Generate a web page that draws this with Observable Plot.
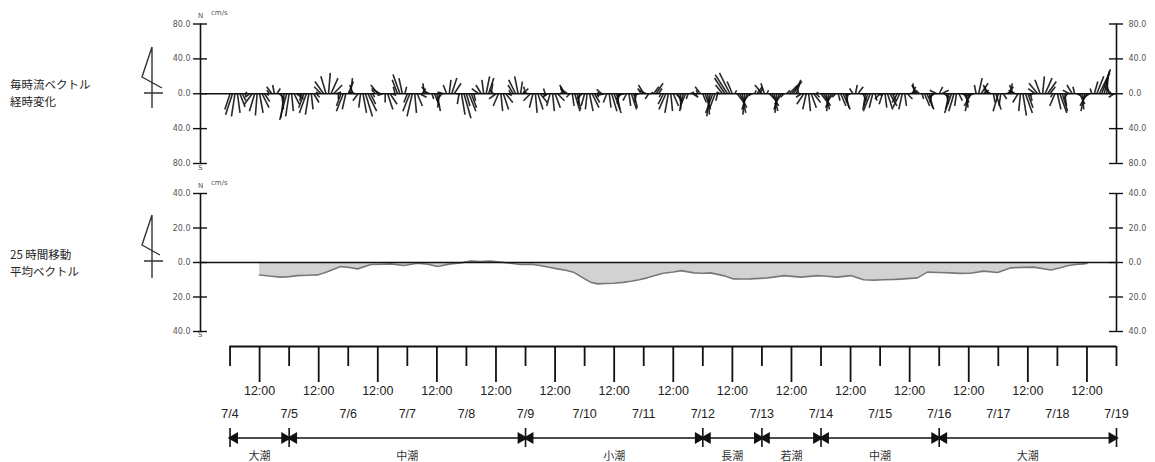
<!DOCTYPE html>
<html><head><meta charset="utf-8">
<script src="https://cdn.jsdelivr.net/npm/d3@7"></script>
<script src="https://cdn.jsdelivr.net/npm/@observablehq/plot@0.6"></script>
<style>
body{margin:0;background:#fff;}
#wrap{position:relative;width:1155px;height:462px;overflow:hidden;background:#fff;font-family:'Noto Sans CJK JP',sans-serif;}
#wrap svg{position:absolute;left:0;}
.lab{position:absolute;font-size:11.5px;line-height:17px;height:17px;color:#222;white-space:nowrap;}
.tiny{position:absolute;font-size:7px;line-height:8px;color:#555;font-family:'DejaVu Sans',sans-serif;}
</style></head><body><div id="wrap"></div>
<script>
// ---- data (hand-estimated from the picture) ----
// hourly current vectors, cm/s, one row per day starting 7/4 00:00
const northV = [
 [-18,-24,-26,-22,-15,-8,-3,2,-4,-12,-20,-25,-22,-16,-9,-2,4,8,10,6,-6,-18,-28,-30],
 [-26,-20,-12,-6,-2,-8,-16,-22,-24,-18,-10,-4,2,8,14,20,24,18,10,2,-6,-14,-20,-18],
 [14,18,10,2,-8,-16,-22,-26,-20,-12,-4,4,10,6,-2,-10,-18,-12,-2,8,16,22,18,8],
 [-10,-20,-26,-22,-14,-4,6,12,8,2,-6,-14,-20,-16,-8,2,10,16,18,12,0,-12,-24,-28],
 [-14,-20,-16,-8,0,6,10,16,20,18,12,4,-6,-14,-20,-18,-10,-2,4,10,16,20,14,6],
 [8,2,-8,-16,-22,-18,-10,-2,6,-4,-14,-20,-16,-8,2,8,10,6,-4,-14,-20,-18,-12,-6],
 [-14,-18,-20,-16,-10,-4,2,5,-2,-10,-16,-20,-22,-18,-12,-6,-2,-8,-14,-18,-16,-10,-2,6],
 [10,4,-6,2,8,12,6,-4,-12,-18,-22,-20,-14,-8,-12,-18,-20,-14,-6,2,-4,-2,4,8],
 [-10,-18,-24,-26,-22,-16,-8,2,10,18,22,24,14,4,-8,-16,-22,-24,-18,-10,-2,4,8,6],
 [10,12,4,-6,-14,-20,-22,-18,-12,-4,4,10,14,16,12,6,-4,-12,-18,-20,-16,-10,-4,2],
 [-8,-14,-18,-20,-16,-10,-4,-8,-14,-18,-16,-10,-2,6,10,8,0,-8,-14,-18,-20,-16,-8,-2],
 [-6,-12,-16,-18,-14,-8,-2,-10,-16,-18,-14,-6,2,8,12,10,4,-6,-14,-18,-16,-10,-4,4],
 [8,4,-4,-12,-18,-22,-20,-14,-8,-2,-10,-16,-20,-14,-2,10,18,12,4,8,10,2,-10,-18],
 [-20,-14,-6,2,8,12,10,4,-10,-20,-25,-22,-16,-8,-2,6,12,16,20,18,14,8,-4,-14],
 [-18,-22,-20,-14,-6,4,10,8,-2,-12,-18,-20,-14,-4,6,14,20,24,28,26,22,16,8,-4]
];
const eastU = [
 [-6,-8,-4,3,6,4,2,-2,-5,-9,-6,-2,4,8,6,2,-3,-6,-2,4,6,2,-4,-8],
 [-4,2,6,8,4,-2,-6,-8,-4,2,6,4,-3,-8,-10,-6,2,8,10,6,0,-5,-8,-4],
 [6,2,-4,-8,-6,-2,4,8,10,6,2,-4,-8,-10,-6,0,6,8,4,-2,-6,-8,-4,2],
 [-4,-8,-6,2,6,8,4,-2,-6,-4,2,6,4,-2,-6,-8,-4,2,6,8,4,-2,4,8],
 [4,8,6,2,-4,-8,-6,-2,4,6,2,-4,-8,-6,2,6,8,4,-2,-6,-8,-4,2,6],
 [-2,-6,-8,-4,2,6,8,4,-2,-6,-4,2,6,8,4,-2,-6,-8,-4,2,6,4,-2,-6],
 [-4,-2,4,8,6,2,-2,-6,-8,-4,2,6,8,4,-2,-6,-8,-4,2,6,4,-2,-6,-4],
 [-6,-8,-4,2,6,8,4,-2,-6,-8,-4,2,6,8,4,0,-4,-6,-2,4,6,2,-2,-6],
 [4,6,2,-4,-8,-6,-2,-4,-8,-12,-14,-12,-6,2,6,8,4,-2,-6,-8,-4,2,6,4],
 [-8,-4,2,6,8,4,-2,-6,-8,-4,4,10,12,8,4,-2,-6,-8,-4,2,6,8,4,-2],
 [6,8,4,-2,-6,-8,-4,2,6,8,4,-2,-6,-4,2,6,8,4,-2,-6,-8,-4,2,6],
 [-6,-4,2,6,8,4,-2,-6,-8,-4,2,6,8,4,-2,-6,-4,2,6,8,4,-2,-6,-8],
 [4,8,6,2,-4,-8,-6,-2,4,8,6,2,-4,-8,-6,-2,4,8,6,-2,-6,-4,2,6],
 [-6,-2,4,8,6,2,-4,-8,-6,-2,4,8,6,2,-4,-8,-10,-6,2,8,10,6,-2,-6],
 [4,8,6,2,-4,-8,-6,-2,4,6,2,-4,-8,-6,-2,4,8,12,10,6,2,-4,-8,-6]
];
// 25-hour moving average (north component), time in days from 7/4 00:00
const meanTime = [0.5,0.7,0.85,1.0,1.14,1.3,1.48,1.6,1.7,1.87,2.0,2.16,2.38,2.55,2.72,2.94,3.17,3.35,3.51,3.73,3.9,4.07,4.25,4.41,4.63,4.92,5.1,5.25,5.4,5.54,5.7,5.81,5.95,6.1,6.22,6.35,6.49,6.65,6.78,6.92,7.06,7.2,7.33,7.5,7.63,7.85,8.0,8.13,8.35,8.52,8.65,8.81,9.1,9.37,9.66,9.94,10.1,10.28,10.5,10.72,10.9,11.06,11.25,11.4,11.63,11.8,12.0,12.19,12.35,12.53,12.75,12.99,13.21,13.4,13.6,13.89,14.05,14.17,14.3,14.44,14.5];
const meanV = [-7.2,-8.0,-8.5,-8.2,-7.6,-7.4,-7.2,-6.0,-4.7,-2.3,-2.8,-3.7,-1.2,-1.0,-0.8,-1.7,-0.4,-1.0,-2.3,-0.8,-0.3,0.8,0.6,0.8,0,-1.2,-1.0,-1.7,-2.8,-3.7,-4.6,-5.6,-8.5,-11.4,-12.4,-12.2,-12.0,-11.5,-10.9,-10.0,-8.9,-7.4,-6.2,-5.5,-4.7,-6.0,-6.2,-6.0,-7.6,-9.5,-9.6,-9.5,-8.9,-7.6,-8.5,-7.6,-8.0,-8.5,-7.6,-10.0,-10.2,-10.0,-9.8,-9.5,-8.9,-5.6,-5.8,-6.0,-6.3,-6.2,-5.0,-5.8,-3.1,-2.8,-2.7,-4.3,-3.0,-1.9,-1.2,-0.8,-0.6];
const topTicks = [80,40,0,-40,-80];
const topTickLabels = ["80.0","40.0","0.0","40.0","80.0"];
const botTicks = [40,20,0,-20,-40];
const botTickLabels = ["40.0","20.0","0.0","20.0","40.0"];
const dayTicks = [0,1,2,3,4,5,6,7,8,9,10,11,12,13,14,15];
const dateLabels = ["7/4","7/5","7/6","7/7","7/8","7/9","7/10","7/11","7/12","7/13","7/14","7/15","7/16","7/17","7/18","7/19"];
const noonTicks = [0.5,1.5,2.5,3.5,4.5,5.5,6.5,7.5,8.5,9.5,10.5,11.5,12.5,13.5,14.5];
const noonLabels = ["12:00","12:00","12:00","12:00","12:00","12:00","12:00","12:00","12:00","12:00","12:00","12:00","12:00","12:00","12:00"];
const tideStart = [0,1,5,8,9,10,12];
const tideEnd = [1,5,8,9,10,12,15];
const tideNames = ["大潮","中潮","小潮","長潮","若潮","中潮","大潮"];

// ---- layout ----
const W = 1155, ML = 200, MR = 39;
const XD = [-0.5, 15];
const pxPerDay = (W - ML - MR) / (XD[1] - XD[0]);
const halfTick = 7 / pxPerDay;
const font = {fontFamily: "'DejaVu Sans', sans-serif", fontSize: "10px", background: "transparent", overflow: "visible"};
const wrap = document.getElementById("wrap");

function place(svg, top) { svg.style.top = top + "px"; wrap.appendChild(svg); return svg; }

function axisMarks(ticks, labels, lo, hi) {
  return [
    Plot.ruleX([XD[0]], {y1: lo, y2: hi, stroke: "#111", strokeWidth: 1.6}),
    Plot.ruleX([XD[1]], {y1: lo, y2: hi, stroke: "#111", strokeWidth: 1.6}),
    Plot.ruleY(ticks, {x1: XD[0] - halfTick, x2: XD[0] + halfTick, stroke: "#111", strokeWidth: 1.4}),
    Plot.ruleY(ticks, {x1: XD[1] - halfTick, x2: XD[1] + halfTick, stroke: "#111", strokeWidth: 1.4}),
    Plot.axisY(ticks, {anchor: "left", tickSize: 0, tickPadding: 10, tickFormat: (d, i) => labels[i], fontSize: 8, fill: "#555", label: null}),
    Plot.axisY(ticks, {anchor: "right", tickSize: 0, tickPadding: 12, tickFormat: (d, i) => labels[i], fontSize: 8, fill: "#555", label: null}),
    Plot.ruleY([0], {x1: XD[0], x2: XD[1], stroke: "#111", strokeWidth: 1.5})
  ];
}

// ---- panel 1: hourly vectors ----
const H1 = 178, MT1 = 23.5, MB1 = 15;
const pxPerCm1 = (H1 - MT1 - MB1) / 160;
const k1 = pxPerCm1 / pxPerDay; // days per cm/s for the east component
const sticks = [];
northV.forEach((row, d) => row.forEach((v, h) => sticks.push({t: d + h / 24, u: eastU[d][h], v})));
place(Plot.plot({
  width: W, height: H1, marginTop: MT1, marginBottom: MB1, marginLeft: ML, marginRight: MR,
  style: font,
  x: {domain: XD, axis: null},
  y: {domain: [-80, 80]},
  marks: [
    Plot.link(sticks, {x1: "t", y1: () => 0, x2: d => d.t + d.u * k1, y2: "v", stroke: "#111", strokeWidth: 1.6, strokeOpacity: 0.9}),
    ...axisMarks(topTicks, topTickLabels, -80, 80)
  ]
}), 0);

// ---- panel 2: 25-hour moving average ----
const H2 = 165;
const mean = meanTime.map((t, i) => ({t, v: meanV[i]}));
place(Plot.plot({
  width: W, height: H2, marginTop: 15, marginBottom: 12, marginLeft: ML, marginRight: MR,
  style: font,
  x: {domain: XD, axis: null},
  y: {domain: [-40, 40]},
  marks: [
    Plot.areaY(mean, {x: "t", y1: () => 0, y2: "v", fill: "#d2d2d2"}),
    Plot.line(mean, {x: "t", y: "v", stroke: "#777", strokeWidth: 1.6}),
    ...axisMarks(botTicks, botTickLabels, -40, 40)
  ]
}), 178);

// ---- panel 3: time axis ----
place(Plot.plot({
  width: W, height: 119, marginTop: 0, marginBottom: 116, marginLeft: ML, marginRight: MR,
  style: {...font, fontFamily: "'Liberation Sans', sans-serif"},
  x: {domain: XD, axis: null},
  y: {domain: [0, 1], axis: null},
  marks: [
    Plot.ruleY([0], {x1: 0, x2: 15, stroke: "#111", strokeWidth: 1.8}),
    Plot.axisX(dayTicks, {anchor: "bottom", tickSize: 20, tickPadding: 43, tickFormat: (d, i) => dateLabels[i], fontSize: 12.5, stroke: "#111", strokeWidth: 1.8, fill: "#222", label: null}),
    Plot.axisX(noonTicks, {anchor: "bottom", tickSize: 36, tickPadding: 4, tickFormat: (d, i) => noonLabels[i], fontSize: 12.5, stroke: "#111", strokeWidth: 1.8, fill: "#222", label: null})
  ]
}), 343);

// ---- panel 4: tide periods ----
const tides = tideStart.map((s, i) => ({s, e: tideEnd[i], name: tideNames[i], mid: (s + tideEnd[i]) / 2}));
const bounds = Array.from(new Set([...tideStart, ...tideEnd]));
place(Plot.plot({
  width: W, height: 42, marginTop: 8, marginBottom: 15, marginLeft: ML, marginRight: MR,
  style: {...font, fontFamily: "'Noto Sans CJK JP', sans-serif"},
  x: {domain: XD, axis: null},
  y: {domain: [-1, 1], axis: null},
  marks: [
    Plot.ruleX(bounds, {y1: -1, y2: 1, stroke: "#111", strokeWidth: 1.6}),
    Plot.link(tides, {x1: "s", x2: "e", y1: () => 0, y2: () => 0, stroke: "#111", strokeWidth: 1.6}),
    Plot.dot(tides, {x: "e", y: () => 0, symbol: "triangle", r: 4.4, rotate: 90, fill: "#111", stroke: "none", dx: -4.5}),
    Plot.dot(tides, {x: "s", y: () => 0, symbol: "triangle", r: 4.4, rotate: -90, fill: "#111", stroke: "none", dx: 4.5}),
    Plot.text(tides, {x: "mid", y: () => -1, text: "name", dy: 9, fontSize: 11, fill: "#333"})
  ]
}), 420);

// ---- left labels, north symbols, units ----
const labels = [
  {x: 10, y: 76, t: "毎時流ベクトル"}, {x: 10, y: 93, t: "経時変化"},
  {x: 10, y: 246, t: "25 時間移動"}, {x: 10, y: 263, t: "平均ベクトル"}
];
labels.forEach(l => { const d = document.createElement("div"); d.className = "lab"; d.style.left = l.x + "px"; d.style.top = l.y + "px"; d.textContent = l.t; wrap.appendChild(d); });
const tiny = [
  {x: 211, y: 9, t: "cm/s"}, {x: 198, y: 12, t: "N"}, {x: 198, y: 164, t: "S"},
  {x: 211, y: 179, t: "cm/s"}, {x: 198, y: 182, t: "N"}, {x: 198, y: 331, t: "S"}
];
tiny.forEach(l => { const d = document.createElement("div"); d.className = "tiny"; d.style.left = l.x + "px"; d.style.top = l.y + "px"; d.textContent = l.t; wrap.appendChild(d); });
const ns = "http://www.w3.org/2000/svg";
const deco = document.createElementNS(ns, "svg");
deco.setAttribute("width", 1155); deco.setAttribute("height", 462); deco.style.top = "0px";
deco.innerHTML = '<g fill="none" stroke="#333" stroke-width="1.4">' +
  '<path d="M152,47V108M152,47L142,77L162,88M144,93H163"/>' +
  '<path d="M152,215V278M152,215L142,245L160,255M144,261H163"/></g>';
wrap.appendChild(deco);
</script></body></html>
